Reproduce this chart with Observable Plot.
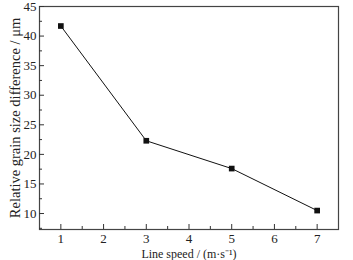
<!DOCTYPE html>
<html><head><meta charset="utf-8">
<script src="https://cdn.jsdelivr.net/npm/d3@7"></script>
<script src="https://cdn.jsdelivr.net/npm/@observablehq/plot@0.6"></script>
<style>body{margin:0;background:#fff}
g[aria-label="x-axis label"] {font-size:12px}
g[aria-label="y-axis label"] {font-size:14.5px}</style>
</head><body><div id="chart"></div>
<script>
const speeds = [1, 3, 5, 7];
const grainDiff = [41.7, 22.3, 17.6, 10.5];
const xTicks = [1, 2, 3, 4, 5, 6, 7];
const xMinor = [1.5, 2.5, 3.5, 4.5, 5.5, 6.5];
const yTicks = [10, 15, 20, 25, 30, 35, 40, 45];
const yMinor = [7.5, 12.5, 17.5, 22.5, 27.5, 32.5, 37.5, 42.5];
const xLabel = "Line speed / (m·s⁻¹)";
const yLabel = "Relative grain size difference / μm";

const data = speeds.map((s, i) => ({x: s, y: grainDiff[i]}));

const chart = Plot.plot({
  width: 353, height: 260,
  marginLeft: 39, marginRight: 15, marginTop: 6, marginBottom: 31,
  style: {fontFamily: "Liberation Serif", fontSize: "13px", color: "#222", background: "#fff"},
  x: {domain: [0.5, 7.5]},
  y: {domain: [7.3, 45]},
  marks: [
    Plot.frame({stroke: "#444", strokeWidth: 1.2}),
    Plot.axisX({ticks: xTicks, tickSize: -5, text: null, label: null, stroke: "#333"}),
    Plot.axisX({ticks: xMinor, tickSize: -3, text: null, label: null, stroke: "#333"}),
    Plot.axisX({ticks: xTicks, tickSize: 0, tickPadding: 4, tickFormat: d => String(d), label: xLabel, labelAnchor: "center", labelArrow: "none", labelOffset: 28, fill: "#222"}),
    Plot.axisY({ticks: yTicks, tickSize: -5, text: null, label: null, stroke: "#333"}),
    Plot.axisY({ticks: yMinor, tickSize: -3, text: null, label: null, stroke: "#333"}),
    Plot.axisY({ticks: yTicks, tickSize: 0, tickPadding: 3, tickFormat: d => String(d), label: null, fill: "#222"}),
    Plot.axisY({ticks: [], tickSize: 0, label: yLabel, labelAnchor: "center", labelArrow: "none", labelOffset: 30, dx: -6, fill: "#222"}),
    Plot.line(data, {x: "x", y: "y", stroke: "#111", strokeWidth: 1}),
    Plot.dot(data, {x: "x", y: "y", symbol: "square", r: 3.2, fill: "#111", stroke: "none"})
  ]
});
document.getElementById("chart").appendChild(chart);
</script>
</body></html>
